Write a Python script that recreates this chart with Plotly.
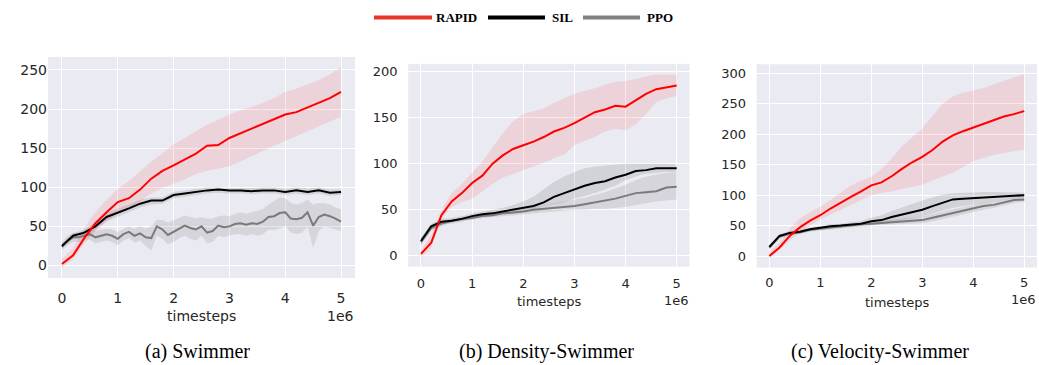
import plotly.graph_objects as go

W, H = 1039, 365

# ---------------- data (x in units of 1e6 timesteps) ----------------
steps = [0.0, 0.2, 0.4, 0.6, 0.8, 1.0, 1.2, 1.4, 1.6, 1.8, 2.0, 2.2, 2.4, 2.6, 2.8,
         3.0, 3.2, 3.4, 3.6, 3.8, 4.0, 4.2, 4.4, 4.6, 4.8, 5.0]
steps_fine = [0.0, 0.1, 0.2, 0.3, 0.4, 0.5, 0.6, 0.7, 0.8, 0.9, 1.0, 1.1, 1.2, 1.3, 1.4,
              1.5, 1.6, 1.7, 1.8, 1.9, 2.0, 2.1, 2.2, 2.3, 2.4, 2.5, 2.6, 2.7, 2.8, 2.9,
              3.0, 3.1, 3.2, 3.3, 3.4, 3.5, 3.6, 3.7, 3.8, 3.9, 4.0, 4.1, 4.2, 4.3, 4.4,
              4.5, 4.6, 4.7, 4.8, 4.9, 5.0]

# (a) Swimmer
sw_rapid = [2, 13, 35, 54, 68, 81, 86, 97, 111, 121, 128, 136, 143, 153, 154, 163, 169, 175, 180, 187, 193, 196, 202, 208, 214, 222]
sw_rapid_hi = [8, 22, 48, 68, 84, 98, 108, 120, 133, 143, 155, 163, 172, 180, 186, 193, 198, 203, 208, 214, 222, 226, 231, 237, 244, 254]
sw_rapid_lo = [-3, 8, 28, 44, 56, 66, 72, 82, 92, 99, 104, 110, 117, 121, 124, 127, 133, 140, 147, 153, 159, 165, 171, 177, 183, 190]
sw_sil = [25, 38, 42, 50, 62, 67, 73, 79, 83, 83, 90, 92, 94, 96, 97, 96, 96, 95, 96, 96, 94, 96, 94, 96, 93, 94]
sw_sil_hi = [28, 41, 46, 55, 67, 72, 78, 84, 87, 87, 94, 96, 98, 100, 100, 99, 99, 99, 100, 100, 98, 100, 98, 100, 97, 98]
sw_sil_lo = [22, 34, 38, 45, 57, 62, 68, 74, 78, 79, 86, 88, 90, 92, 93, 92, 92, 91, 92, 92, 90, 92, 90, 92, 89, 90]
sw_ppo = [24, 32, 36, 36, 38, 40, 36, 38, 40, 38, 34, 40, 43, 38, 41, 36, 35, 50, 46, 39, 43, 48, 51, 48, 46,
          50, 42, 44, 51, 49, 50, 53, 54, 52, 54, 53, 56, 62, 63, 67, 68, 60, 59, 61, 68, 51, 62, 65, 63, 60, 56]
sw_ppo_hi = [30, 38, 42, 42, 44, 47, 44, 46, 47, 46, 43, 47, 50, 47, 50, 47, 50, 58, 58, 55, 58, 62, 64, 62, 60,
             62, 60, 60, 63, 64, 63, 66, 68, 66, 68, 70, 72, 78, 82, 87, 86, 80, 78, 80, 84, 78, 80, 80, 78, 74, 72]
sw_ppo_lo = [20, 26, 30, 30, 32, 33, 28, 30, 32, 30, 26, 32, 35, 29, 32, 25, 19, 38, 34, 27, 30, 35, 38, 34, 32,
             38, 28, 30, 38, 36, 38, 40, 40, 38, 40, 38, 40, 46, 45, 48, 50, 42, 40, 42, 50, 22, 44, 50, 48, 46, 44]

# (b) Density-Swimmer
ds_rapid = [2, 14, 44, 59, 68, 79, 87, 100, 109, 116, 120, 124, 129, 135, 139, 144, 150, 156, 159, 163, 162, 169, 176, 181, 183, 185]
ds_rapid_hi = [6, 22, 50, 68, 78, 90, 102, 118, 133, 146, 154, 157, 160, 166, 171, 176, 179, 182, 186, 189, 190, 192, 195, 197, 197, 197]
ds_rapid_lo = [-2, 8, 40, 53, 58, 62, 70, 78, 85, 89, 93, 97, 101, 106, 110, 120, 125, 129, 135, 138, 136, 143, 154, 167, 171, 174]
ds_sil = [16, 32, 37, 38, 40, 43, 45, 46, 48, 50, 52, 54, 58, 64, 68, 72, 76, 79, 81, 85, 88, 92, 93, 95, 95, 95]
ds_sil_hi = [20, 35, 40, 41, 43, 46, 48, 50, 52, 55, 59, 64, 72, 80, 86, 91, 95, 97, 98, 99, 100, 100, 100, 100, 100, 99]
ds_sil_lo = [12, 29, 34, 35, 37, 40, 42, 43, 45, 46, 48, 50, 54, 56, 58, 62, 65, 68, 72, 76, 82, 86, 89, 90, 91, 91]
ds_ppo = [15, 30, 35, 38, 40, 41, 43, 44, 46, 47, 48, 50, 51, 52, 53, 54, 56, 58, 60, 62, 65, 68, 69, 70, 74, 75]
ds_ppo_hi = [18, 33, 38, 40, 42, 43, 45, 47, 49, 50, 51, 53, 55, 57, 59, 61, 63, 66, 69, 73, 77, 82, 86, 88, 90, 91]
ds_ppo_lo = [12, 27, 32, 36, 38, 39, 41, 42, 43, 44, 45, 46, 47, 48, 49, 50, 50, 51, 51, 52, 53, 55, 57, 59, 60, 61]

# (c) Velocity-Swimmer
vs_rapid = [0, 14, 33, 47, 58, 67, 78, 88, 97, 106, 116, 121, 131, 143, 154, 163, 174, 188, 198, 205, 211, 218, 223, 229, 233, 238]
vs_rapid_hi = [6, 22, 45, 62, 72, 81, 92, 104, 116, 124, 130, 143, 160, 180, 195, 210, 230, 250, 262, 268, 272, 276, 282, 288, 293, 299]
vs_rapid_lo = [-4, 10, 26, 38, 50, 60, 68, 76, 84, 92, 100, 104, 106, 110, 114, 117, 124, 131, 137, 146, 156, 161, 166, 169, 172, 175]
vs_sil = [15, 33, 38, 40, 44, 47, 49, 50, 52, 53, 57, 59, 64, 68, 73, 76, 82, 88, 93, 94, 95, 96, 98, 99, 100, 100]
vs_sil_hi = [19, 36, 41, 43, 47, 50, 52, 53, 56, 58, 63, 67, 74, 80, 86, 91, 96, 101, 103, 104, 105, 105, 105, 105, 105, 104]
vs_sil_lo = [11, 30, 35, 37, 41, 44, 46, 47, 48, 49, 51, 53, 56, 59, 62, 65, 70, 75, 79, 82, 84, 87, 90, 93, 95, 96]
vs_ppo = [14, 32, 37, 39, 43, 45, 47, 49, 50, 52, 53, 54, 55, 56, 57, 59, 63, 67, 71, 75, 79, 82, 84, 88, 92, 93]
vs_ppo_hi = [17, 35, 40, 42, 46, 48, 50, 52, 53, 55, 57, 58, 60, 61, 63, 65, 69, 73, 77, 81, 85, 88, 90, 93, 96, 97]
vs_ppo_lo = [11, 29, 34, 36, 40, 42, 44, 46, 47, 49, 50, 51, 51, 52, 53, 54, 57, 61, 65, 69, 73, 76, 79, 83, 87, 89]

methods = ["RAPID", "SIL", "PPO"]
captions = ["(a) Swimmer", "(b) Density-Swimmer", "(c) Velocity-Swimmer"]
xtick_vals = [0, 1, 2, 3, 4, 5]
ytick_vals = [[0, 50, 100, 150, 200, 250],
              [0, 50, 100, 150, 200],
              [0, 50, 100, 150, 200, 250, 300]]

# ---------------- styling ----------------
line_col = {"RAPID": "#ff0000", "SIL": "#000000", "PPO": "#7a7a7a"}
band_col = {"RAPID": "rgba(255,0,0,0.10)", "SIL": "rgba(0,0,0,0.10)", "PPO": "rgba(128,128,128,0.20)"}
legend_col = {"RAPID": "#e8362a", "SIL": "#000000", "PPO": "#808080"}
BG = "#eaeaf2"
TXT = "#262626"

# pixel geometry of each panel: (left, right, top, bottom) and y range
panels = [
    dict(px=(48.0, 355.0), py=(57.0, 278.0), yr=(-16, 266.5), fs=14, tl_y=297, title_y=316, off_y=316, ylen=0),
    dict(px=(408.2, 689.5), py=(63.9, 266.7), yr=(-12, 208.5), fs=13, tl_y=283, title_y=301, off_y=300, ylen=7),
    dict(px=(756.6, 1037.0), py=(64.2, 267.6), yr=(-19, 315), fs=13, tl_y=282, title_y=302, off_y=299.5, ylen=7),
]
caption_x = [197, 546, 880]

series = [
    [(steps, sw_rapid, sw_rapid_lo, sw_rapid_hi), (steps, sw_sil, sw_sil_lo, sw_sil_hi), (steps_fine, sw_ppo, sw_ppo_lo, sw_ppo_hi)],
    [(steps, ds_rapid, ds_rapid_lo, ds_rapid_hi), (steps, ds_sil, ds_sil_lo, ds_sil_hi), (steps, ds_ppo, ds_ppo_lo, ds_ppo_hi)],
    [(steps, vs_rapid, vs_rapid_lo, vs_rapid_hi), (steps, vs_sil, vs_sil_lo, vs_sil_hi), (steps, vs_ppo, vs_ppo_lo, vs_ppo_hi)],
]

fig = go.Figure()
annotations = []
shapes = []

for i, (pan, ser) in enumerate(zip(panels, series)):
    k = "" if i == 0 else str(i + 1)
    xa, ya = "x" + k, "y" + k
    draw_order = [2, 1, 0]
    for j in draw_order:
        xs, m, lo, hi = ser[j]
        xv = [v * 1e6 for v in xs]
        name = methods[j]
        fig.add_trace(go.Scatter(x=xv, y=hi, xaxis=xa, yaxis=ya, mode="lines",
                                 line=dict(width=0), showlegend=False, hoverinfo="skip"))
        fig.add_trace(go.Scatter(x=xv, y=lo, xaxis=xa, yaxis=ya, mode="lines",
                                 line=dict(width=0), fill="tonexty", fillcolor=band_col[name],
                                 showlegend=False, hoverinfo="skip"))
    for j in draw_order:
        xs, m, lo, hi = ser[j]
        xv = [v * 1e6 for v in xs]
        name = methods[j]
        fig.add_trace(go.Scatter(x=xv, y=m, xaxis=xa, yaxis=ya, mode="lines", name=name,
                                 line=dict(color=line_col[name], width=2), showlegend=False))

    x0, x1 = pan["px"]
    t, b = pan["py"]
    fs = pan["fs"]
    xaxis = dict(domain=[x0 / W, x1 / W], range=[-0.25e6, 5.25e6],
                 tickvals=[v * 1e6 for v in xtick_vals], ticktext=[str(v) for v in xtick_vals],
                 showgrid=True, gridcolor="white", gridwidth=1.2, zeroline=False, showline=False,
                 ticks="outside", ticklen=max(1, pan["tl_y"] - b - fs / 2 - 5), tickcolor="rgba(0,0,0,0)",
                 tickfont=dict(family="DejaVu Sans", size=fs, color=TXT),
                 anchor=ya, fixedrange=True)
    yaxis = dict(domain=[1 - b / H, 1 - t / H], range=list(pan["yr"]),
                 tickvals=ytick_vals[i], showgrid=True, gridcolor="white", gridwidth=1.2,
                 zeroline=False, showline=False,
                 ticks=("outside" if pan["ylen"] > 0 else ""), ticklen=max(1, pan["ylen"]),
                 tickcolor="rgba(0,0,0,0)",
                 tickfont=dict(family="DejaVu Sans", size=fs, color=TXT),
                 anchor=xa, fixedrange=True)
    fig.update_layout({"xaxis" + k: xaxis, "yaxis" + k: yaxis})

    annotations.append(dict(text="timesteps", xref="paper", yref="paper",
                            x=(x0 + x1) / 2 / W, y=1 - pan["title_y"] / H,
                            xanchor="center", yanchor="middle", showarrow=False,
                            font=dict(family="DejaVu Sans", size=fs, color=TXT)))
    annotations.append(dict(text="1e6", xref="paper", yref="paper",
                            x=x1 / W, y=1 - pan["off_y"] / H,
                            xanchor="right", yanchor="middle", showarrow=False, borderpad=0,
                            font=dict(family="DejaVu Sans", size=fs, color=TXT)))
    annotations.append(dict(text=captions[i], xref="paper", yref="paper",
                            x=caption_x[i] / W, y=1 - 351 / H,
                            xanchor="center", yanchor="middle", showarrow=False,
                            font=dict(family="Liberation Serif", size=20, color="#000000")))

# legend (manual, top centre)
leg = [("RAPID", 374, 432, 434), ("SIL", 488, 545, 550), ("PPO", 583, 640, 645)]
for name, lx0, lx1, tx in leg:
    shapes.append(dict(type="line", xref="paper", yref="paper", x0=lx0 / W, x1=lx1 / W,
                       y0=1 - 17.5 / H, y1=1 - 17.5 / H,
                       line=dict(color=legend_col[name], width=4)))
    annotations.append(dict(text="<b>%s</b>" % name, xref="paper", yref="paper",
                            x=tx / W, y=1 - 17.5 / H, xanchor="left", yanchor="middle",
                            showarrow=False,
                            font=dict(family="Liberation Serif", size=13, color="#000000")))

fig.update_layout(width=W, height=H, margin=dict(l=0, r=0, t=0, b=0),
                  paper_bgcolor="white", plot_bgcolor=BG, showlegend=False,
                  annotations=annotations, shapes=shapes)

fig.write_html("out.html")
